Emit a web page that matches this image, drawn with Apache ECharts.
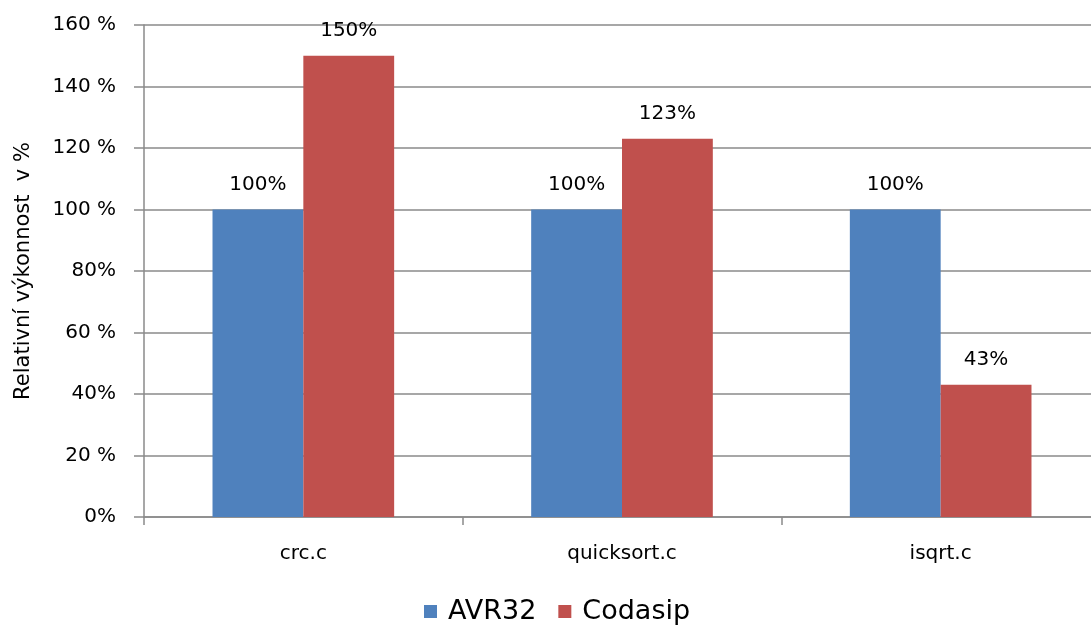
<!DOCTYPE html>
<html>
<head>
<meta charset="utf-8">
<script src="https://cdn.jsdelivr.net/npm/echarts@6/dist/echarts.min.js"></script>
<style>
  html, body { margin: 0; padding: 0; background: #fff; overflow: hidden; }
  /* plot area runs past the right edge in the original, so the canvas is a bit wider than the window */
  #chart { width: 1100px; height: 625px; }
</style>
</head>
<body>
<div id="chart"></div>
<script>
const categories = ['crc.c', 'quicksort.c', 'isqrt.c']
const avr32 = [100, 100, 100]
const codasip = [150, 123, 43]
const yTicks = [0, 20, 40, 60, 80, 100, 120, 140, 160]
const yTickLabels = ['0%', '20 %', '40%', '60 %', '80%', '100 %', '120 %', '140 %', '160 %']

const font = 'DejaVu Sans'
const gridColor = '#8a8a8a'

const options = {
    animation: false,
    textStyle: { fontFamily: font, color: '#000' },
    legend: {
        top: 593,
        left: 419,
        itemWidth: 13,
        itemHeight: 13,
        itemGap: 22,
        icon: 'rect',
        textStyle: { fontFamily: font, fontSize: 27, color: '#000', padding: [0, 0, 0, 6] },
        data: ['AVR32', 'Codasip']
    },
    grid: { left: 144, right: 0, top: 25, bottom: 108, containLabel: false },
    xAxis: {
        type: 'category',
        data: categories,
        axisLine: { lineStyle: { color: gridColor, width: 1.5 } },
        axisTick: { show: true, length: 8, alignWithLabel: false, lineStyle: { color: gridColor, width: 1.5 } },
        axisLabel: { fontFamily: font, fontSize: 20, color: '#000', margin: 27 }
    },
    yAxis: {
        type: 'value',
        min: 0,
        max: 160,
        interval: 20,
        name: 'Relativní výkonnost  v %',
        nameLocation: 'middle',
        nameGap: 110,
        nameTextStyle: { fontFamily: font, fontSize: 21, color: '#000' },
        axisLine: { show: true, lineStyle: { color: gridColor, width: 1.5 } },
        axisTick: { show: true, inside: false, length: 10, lineStyle: { color: gridColor, width: 1.5 } },
        splitLine: { show: true, lineStyle: { color: gridColor, width: 1.5 } },
        axisLabel: {
            fontFamily: font,
            fontSize: 20,
            color: '#000',
            margin: 28,
            formatter: function (v) {
                return yTickLabels[yTicks.indexOf(v)]
            }
        }
    },
    series: [
        {
            name: 'AVR32',
            type: 'bar',
            data: avr32,
            barGap: '0%',
            barCategoryGap: '43%',
            itemStyle: { color: '#4F81BD' },
            label: { show: true, position: 'top', distance: 15, fontFamily: font, fontSize: 20, color: '#000', formatter: '{c}%' }
        },
        {
            name: 'Codasip',
            type: 'bar',
            data: codasip,
            barGap: '0%',
            barCategoryGap: '43%',
            itemStyle: { color: '#C0504D' },
            label: { show: true, position: 'top', distance: 15, fontFamily: font, fontSize: 20, color: '#000', formatter: '{c}%' }
        }
    ]
}

let chart = echarts.init(document.getElementById('chart'))
chart.setOption(options)
window.addEventListener('resize', function () {
    chart && chart.resize()
})
</script>
</body>
</html>
